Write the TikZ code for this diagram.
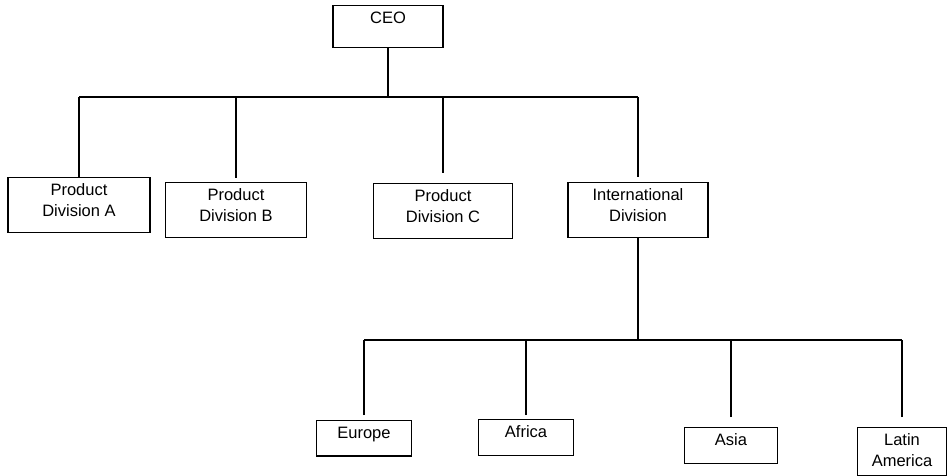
\documentclass[tikz,border=0pt]{standalone}
\usepackage{fontspec}
\setmainfont{Liberation Sans}
\usepackage{tikz}

\begin{document}
\begin{tikzpicture}[
  x=1pt, y=-1pt,
  every node/.style={draw, line width=1.3pt, anchor=north, align=center,
    inner xsep=2pt, inner ysep=6pt, font=\fontsize{16.5}{20.5}\selectfont},
  link/.style={line width=1.3pt}
]
\useasboundingbox (0,0) rectangle (948,476);

% top level
\node[minimum width=110pt, text depth=18pt] (ceo) at (388,5) {CEO};

% divisions
\node[minimum width=142pt, text depth=10.5pt] (pa) at (79,177) {Product\\Division A};
\node[minimum width=141pt, text depth=10.5pt] (pb) at (236,182) {Product\\Division B};
\node[minimum width=139pt, text depth=10.5pt] (pc) at (443,183) {Product\\Division C};
\node[minimum width=140pt, text depth=10.5pt] (intl) at (638,182) {International\\Division};

% regions
\node[minimum width=95pt, text depth=12pt] (eu) at (364,420) {Europe};
\node[minimum width=95pt, text depth=12pt] (af) at (526,419) {Africa};
\node[minimum width=93pt, text depth=12pt] (as) at (731,427) {Asia};
\node[minimum width=89pt, text depth=3.5pt] (la) at (902,427) {Latin\\America};

\coordinate (topbar) at (0,97);
\coordinate (lowbar) at (0,340);

\draw[link] (ceo.south) -- (ceo.south |- topbar);
\draw[link] (pa.north |- topbar) -- (intl.north |- topbar);
\foreach \n/\g in {pa/0, pb/4, pc/10, intl/5}
  \draw[link, shorten <=\g pt] (\n.north) -- (\n.north |- topbar);

\draw[link] (intl.south) -- (intl.south |- lowbar);
\draw[link] (eu.north |- lowbar) -- (la.north |- lowbar);
\foreach \n/\g in {eu/5, af/4, as/10, la/10}
  \draw[link, shorten <=\g pt] (\n.north) -- (\n.north |- lowbar);

\end{tikzpicture}
\end{document}
